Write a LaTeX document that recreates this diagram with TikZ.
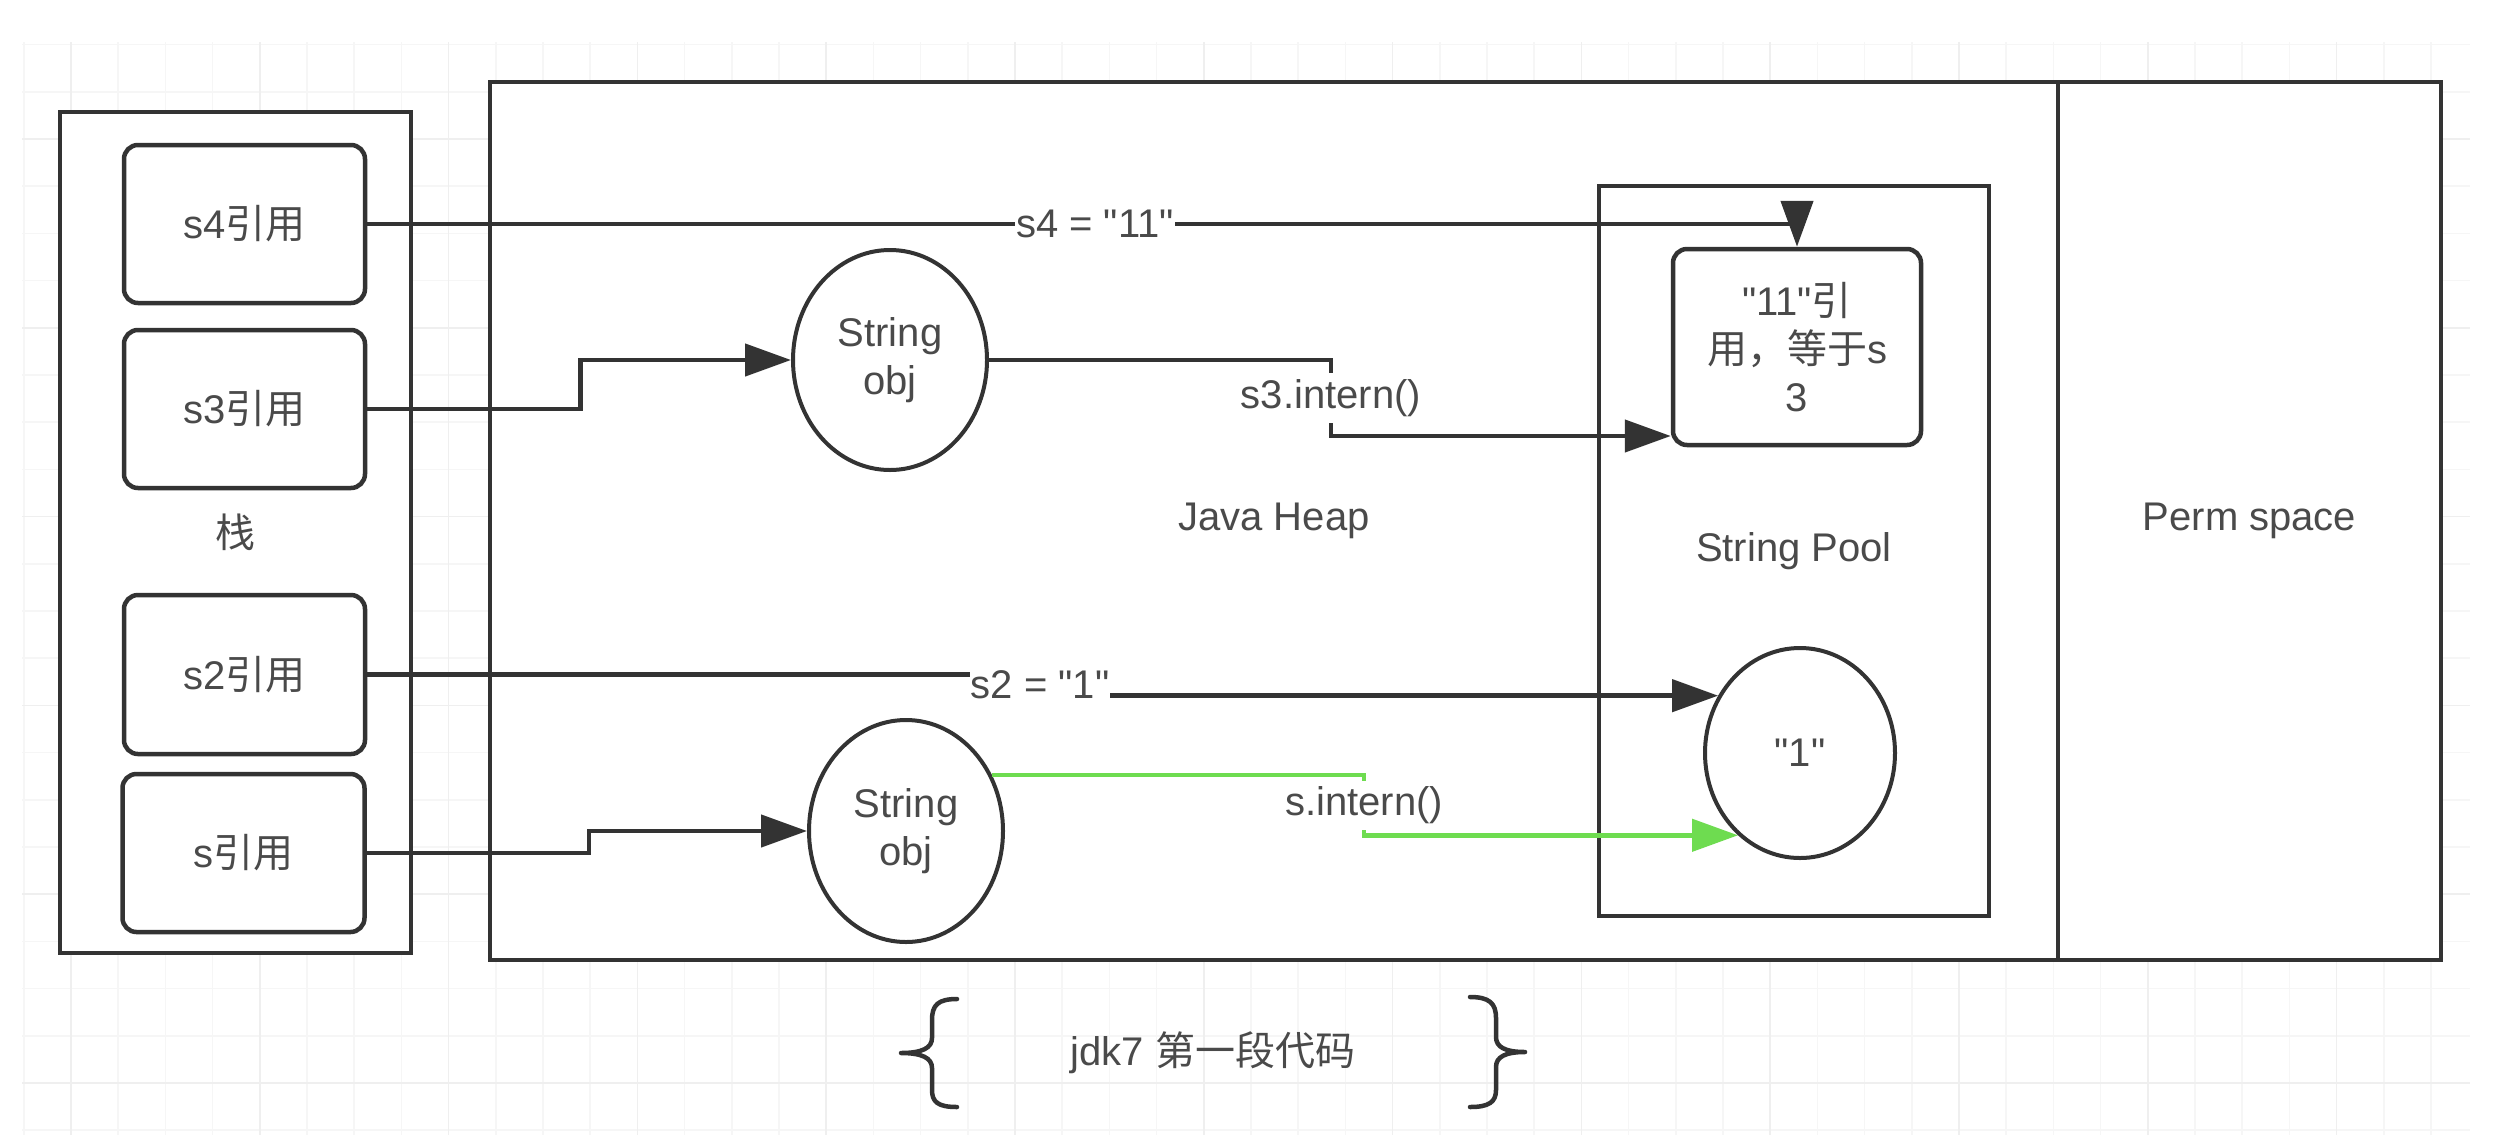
\documentclass[tikz,border=0pt]{standalone}
\usepackage{fontspec}
\setmainfont{Liberation Sans}[Ligatures=TeXOff]
\newfontfamily\cjk{Noto Sans CJK SC}
\usetikzlibrary{arrows.meta,shapes.geometric,calc}
\definecolor{linec}{HTML}{333333}
\definecolor{textc}{HTML}{4A4A4A}
\definecolor{greenc}{RGB}{110,220,80}
\definecolor{gridc}{HTML}{F6F6F6}
\definecolor{gridm}{HTML}{EFEFEF}
\begin{document}
\begin{tikzpicture}[x=1pt,y=-1pt,
  txt/.style={font=\fontsize{40}{48}\selectfont, text=textc},
  box/.style={draw=linec, line width=4.5pt, fill=white, rectangle, inner sep=0pt, txt},
  rbox/.style={box, rounded corners=14pt},
  oval/.style={draw=linec, line width=4pt, fill=white, ellipse, inner sep=0pt, txt, align=center},
  conn/.style={draw=linec, line width=4.5pt},
  arr/.style={conn, -{Triangle[length=46pt,width=32pt]}},
  garr/.style={draw=greenc, line width=4.5pt, -{Triangle[length=46pt,width=32pt,fill=greenc]}},
  lab/.style={txt, fill=white, inner xsep=1pt, inner ysep=6pt},
  bracec/.style={draw=linec, line width=4.5pt, line cap=round, line join=round},
  gridl/.style={draw=gridc, line width=1.5pt},
  gridM/.style={draw=gridm, line width=1.5pt}
]
\useasboundingbox[fill=white] (0,0) rectangle (2502,1144);
% background grid
\foreach \i in {-1,...,50} {\draw[gridl] ({71+47.2*\i},42) -- ({71+47.2*\i},1135);}
\foreach \j in {-1,...,22} {\draw[gridl] (22,{1083-47.2*\j}) -- (2470,{1083-47.2*\j});}
\foreach \i in {0,4,...,48} {\draw[gridM] ({71+47.2*\i},42) -- ({71+47.2*\i},1135);}
\foreach \j in {0,4,...,20} {\draw[gridM] (22,{1083-47.2*\j}) -- (2470,{1083-47.2*\j});}

% containers
\node[box, minimum width=351, minimum height=841] (stack) at (235.5,532.5) {\cjk 栈};
\node[box, minimum width=1568, minimum height=878] (heap) at (1274,521) {Java Heap};
\node[box, minimum width=383, minimum height=878] (perm) at (2249.5,521) {Perm space};
\node[box, minimum width=390, minimum height=730] (pool) at (1794,551) {String Pool};

% references
\node[rbox, minimum width=241, minimum height=158] (s4) at (244.5,224) {s4{\cjk 引用}};
\node[rbox, minimum width=241, minimum height=158] (s3) at (244.5,409) {s3{\cjk 引用}};
\node[rbox, minimum width=241, minimum height=159] (s2) at (244.5,674.5) {s2{\cjk 引用}};
\node[rbox, minimum width=242, minimum height=158] (s) at (243.5,853) {s{\cjk 引用}};

% objects
\node[oval, minimum width=194, minimum height=220] (obj1) at (890,360) {String\\obj};
\node[oval, minimum width=194, minimum height=222] (obj2) at (906,831) {String\\obj};
\node[rbox, align=center, minimum width=248, minimum height=196] (eleven) at (1797,347) {"11"{\cjk 引}\\{\cjk 用，等于}s\\3};
\node[oval, minimum width=190, minimum height=210] (one) at (1800,753) {"1"};

% connectors
\draw[arr] (s4.east) -- node[lab,pos=0.509]{s4 = "11"} (s4.east -| eleven.north) -- (eleven.north);
\draw[arr] (s3.east) -- ++(213,0) |- (obj1.west);
\draw[arr] (obj1.east) -- (obj1.east -| 1331,0) -- node[lab]{s3.intern()} (1331,436) -- (eleven.west |- 0,436);
\coordinate (s2end) at (one.145.8);
\draw[arr] (s2.east) -- (s2.east -| 1040,0) -- node[lab]{s2 = "1"} (s2end -| 1040,0) -- (s2end);
\draw[arr] (s.east) -- ++(222,0) |- (obj2.west);
\coordinate (gstart) at (obj2.33.5);
\coordinate (gend) at (one.233.3);
\draw[garr] (gstart) -- (gstart -| 1364,0) -- node[lab]{s.intern()} (gend -| 1364,0) -- (gend);

% bottom caption with braces
\draw[bracec] (957,999) .. controls (938,999) and (932,1005) .. (932,1020) -- (932,1038) .. controls (932,1048) and (922,1053) .. (901,1053) .. controls (922,1053) and (932,1058) .. (932,1068) -- (932,1090) .. controls (932,1102) and (938,1107) .. (957,1107);
\draw[bracec] (1470,997) .. controls (1489,997) and (1496,1003) .. (1496,1018) -- (1496,1037) .. controls (1496,1047) and (1505,1052) .. (1525,1052) .. controls (1505,1052) and (1496,1057) .. (1496,1067) -- (1496,1090) .. controls (1496,1102) and (1489,1107) .. (1470,1107);
\node[txt] (cap) at (1213,1053) {jdk7 {\cjk 第一段代码}};
\end{tikzpicture}
\end{document}
